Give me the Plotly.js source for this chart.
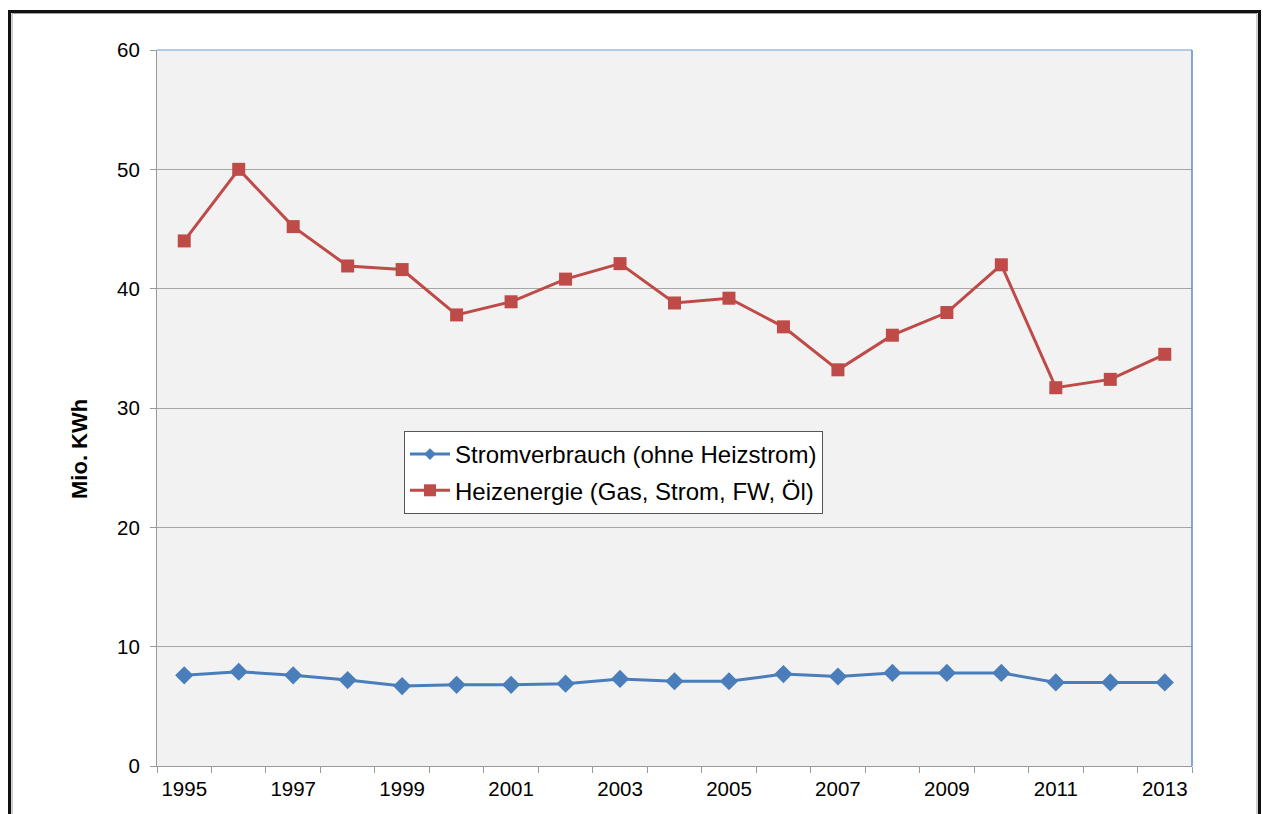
<!DOCTYPE html>
<html>
<head>
<meta charset="utf-8">
<script src="https://cdn.plot.ly/plotly-3.0.1.min.js"></script>
<style>
html,body{margin:0;padding:0;background:#fff;}
#chart{width:1263px;height:814px;}
</style>
</head>
<body>
<div id="chart"></div>
<script>
const years = [1995,1996,1997,1998,1999,2000,2001,2002,2003,2004,2005,2006,2007,2008,2009,2010,2011,2012,2013];
const strom = [7.6,7.9,7.6,7.2,6.7,6.8,6.8,6.9,7.3,7.1,7.1,7.7,7.5,7.8,7.8,7.8,7.0,7.0,7.0];
const heiz = [44.0,50.0,45.2,41.9,41.6,37.8,38.9,40.8,42.1,38.8,39.2,36.8,33.2,36.1,38.0,42.0,31.7,32.4,34.5];
const seriesNames = ["Stromverbrauch (ohne Heizstrom)", "Heizenergie (Gas, Strom, FW, Öl)"];
const yTicks = [0,10,20,30,40,50,60];
const xLabelYears = [1995,1997,1999,2001,2003,2005,2007,2009,2011,2013];
const yTitle = "Mio. KWh";

const boundaries = years.map(y => y - 0.5).concat([years[years.length-1] + 0.5]);

const font = "Liberation Sans, Arial, sans-serif";
const blue = '#4a7ebb', red = '#be4b48';

const traces = [
  {x: years, y: strom, name: seriesNames[0], type: 'scatter', mode: 'lines+markers', showlegend: false,
   line: {color: blue, width: 3}, marker: {symbol: 'diamond', size: 14, color: blue}},
  {x: years, y: heiz, name: seriesNames[1], type: 'scatter', mode: 'lines+markers', showlegend: false,
   line: {color: red, width: 3}, marker: {symbol: 'square', size: 13, color: red}},
  {x: [null], y: [null], name: seriesNames[0], type: 'scatter', mode: 'lines+markers', legendgroup: 'a',
   line: {color: blue, width: 3}, marker: {symbol: 'diamond', size: 9, color: blue}},
  {x: [null], y: [null], name: seriesNames[1], type: 'scatter', mode: 'lines+markers', legendgroup: 'b',
   line: {color: red, width: 3}, marker: {symbol: 'square', size: 12, color: red}},
  {x: [years[0]], y: [null], xaxis: 'x2', showlegend: false, hoverinfo: 'skip'}
];

const layout = {
  width: 1263, height: 814,
  margin: {l: 157, r: 71, t: 50, b: 48},
  paper_bgcolor: '#ffffff',
  plot_bgcolor: '#f2f2f2',
  font: {family: font, size: 20, color: '#000'},
  showlegend: true,
  legend: {
    x: (404-157)/1035, y: (766-431)/716, xanchor: 'left', yanchor: 'top',
    bgcolor: '#ffffff', bordercolor: '#555555', borderwidth: 1,
    font: {family: font, size: 24, color: '#000'},
    traceorder: 'grouped', tracegroupgap: 2, itemwidth: 40
  },
  xaxis: {
    range: [years[0]-0.5, years[years.length-1]+0.5],
    tickvals: xLabelYears, ticktext: xLabelYears.map(String),
    ticks: '', showgrid: false, zeroline: false,
    showline: true, linecolor: '#999999', linewidth: 1,
    tickfont: {family: font, size: 20.5, color: '#000'},
    ticklabelstandoff: 4
  },
  xaxis2: {
    overlaying: 'x', matches: 'x', side: 'bottom',
    range: [years[0]-0.5, years[years.length-1]+0.5],
    tickvals: boundaries, showticklabels: false,
    ticks: 'outside', ticklen: 6, tickcolor: '#999999', tickwidth: 1,
    showgrid: false, zeroline: false, showline: false
  },
  yaxis: {
    range: [0, 60], tickvals: yTicks,
    ticks: 'outside', ticklen: 6, tickcolor: '#999999',
    showgrid: true, gridcolor: '#a6a6a6', gridwidth: 1,
    zeroline: false, showline: true, linecolor: '#999999', linewidth: 1,
    tickfont: {family: font, size: 20.5, color: '#000'},
    ticklabelstandoff: 6
  },
  annotations: [
    {text: '<b>' + yTitle + '</b>', xref: 'paper', yref: 'paper',
     x: (79-157)/1035, y: (766-449)/716, xanchor: 'center', yanchor: 'middle',
     textangle: -90, showarrow: false, font: {family: font, size: 22, color: '#000'}}
  ],
  shapes: [
    {type: 'line', xref: 'paper', yref: 'paper', x0: 0, x1: 1, y0: 1, y1: 1,
     line: {color: '#9dbbe0', width: 1.5}},
    {type: 'line', xref: 'paper', yref: 'paper', x0: 1, x1: 1, y0: 0, y1: 1,
     line: {color: '#5b8ad0', width: 1.5}},
    {type: 'rect', xref: 'paper', yref: 'paper',
     x0: (9.5-157)/1035, x1: (1259.5-157)/1035, y0: -0.2, y1: (766-11.5)/716,
     line: {color: '#111111', width: 3}, layer: 'above'},
    {type: 'rect', xref: 'paper', yref: 'paper',
     x0: (12-157)/1035, x1: (1257-157)/1035, y0: -0.2, y1: (766-13.5)/716,
     line: {color: '#a0a0a0', width: 1}, layer: 'above'}
  ]
};

Plotly.newPlot('chart', traces, layout, {displayModeBar: false, staticPlot: true});
</script>
</body>
</html>
